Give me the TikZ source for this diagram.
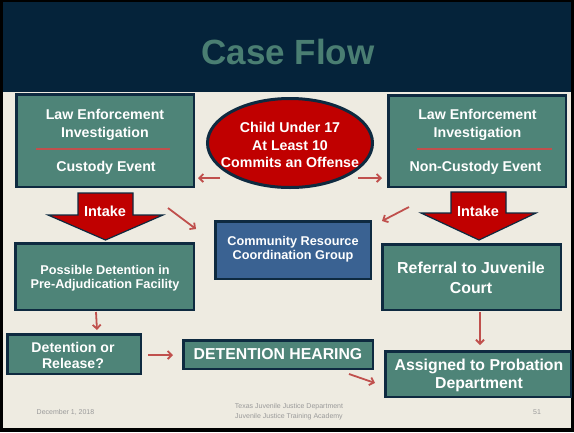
\documentclass[tikz,border=0pt]{standalone}
\usepackage{fontspec}
\setmainfont{Liberation Sans}
\usetikzlibrary{arrows.meta,shapes.geometric,shadows}
\definecolor{hdrnavy}{HTML}{05233A}
\definecolor{edgenavy}{HTML}{0E2A40}
\definecolor{boxteal}{HTML}{4E8478}
\definecolor{titleteal}{HTML}{4A7E72}
\definecolor{bgbeige}{HTML}{EEEBE1}
\definecolor{deepred}{HTML}{C00000}
\definecolor{arrred}{HTML}{C0504D}
\definecolor{crblue}{HTML}{3A6292}
\definecolor{footgray}{HTML}{9A9A9A}
\begin{document}
\begin{tikzpicture}[x=1pt,y=-1pt,
  box/.style={draw=edgenavy, line width=2.5pt, fill=boxteal, inner sep=0pt,
    drop shadow={opacity=0.25, shadow xshift=1.2pt, shadow yshift=-1.2pt}},
  wtxt/.style={text=white, align=center, inner sep=0pt, font=\bfseries},
  conn/.style={draw=arrred, line width=1.8pt, -{Straight Barb[length=4pt,width=8pt]}},
  sep/.style={draw=arrred, line width=1.8pt},
  intake/.style={fill=deepred, draw=edgenavy, line width=1.2pt},
  foot/.style={text=footgray, align=center, inner sep=0pt, font=\fontsize{7}{10}\selectfont}
]
\useasboundingbox (0,0) rectangle (574,432);
% frame and background
\fill[black] (0,0) rectangle (574,432);
\fill[bgbeige] (3,2) rectangle (571,428);
\fill[hdrnavy] (3,2) rectangle (571,92);
\node[text=titleteal, inner sep=0pt, font=\bfseries\fontsize{35}{40}\selectfont] (title) at (288,52) {Case Flow};

% top-left box
\node[box, minimum width=177.5pt, minimum height=92.5pt] (lbox) at (105,140.5) {};
\node[wtxt, font=\bfseries\fontsize{14.2}{18}\selectfont] (ltxt1) at (105,125) {Law Enforcement\\Investigation};
\draw[sep] (36,149) -- (170,149);
\node[wtxt, font=\bfseries\fontsize{14.2}{18}\selectfont] (ltxt2) at (106,167.5) {Custody Event};

% top-right box
\node[box, minimum width=177.5pt, minimum height=91.5pt] (rbox) at (477,141) {};
\node[wtxt, font=\bfseries\fontsize{14.2}{18}\selectfont] (rtxt1) at (477.5,125) {Law Enforcement\\Investigation};
\draw[sep] (417,149) -- (552,149);
\node[wtxt, font=\bfseries\fontsize{14.2}{18}\selectfont] (rtxt2) at (475.5,167.5) {Non-Custody Event};

% ellipse
\node[ellipse, draw=edgenavy, line width=3pt, fill=deepred, minimum width=165pt, minimum height=89pt, inner sep=0pt] (ell) at (290,143) {};
\node[wtxt, font=\bfseries\fontsize{14.2}{17.5}\selectfont] (elltxt) at (290,145) {Child Under 17\\At Least 10\\Commits an Offense};

% intake arrows
\draw[intake] (78,193) -- (133,193) -- (133,215) -- (163,215) -- (105.5,240) -- (48,215) -- (78,215) -- cycle;
\node[wtxt, font=\bfseries\fontsize{14.5}{17}\selectfont] (lintake) at (105,211.5) {Intake};
\draw[intake] (451,192) -- (506,192) -- (506,213) -- (536,213) -- (479,240) -- (421,213) -- (451,213) -- cycle;
\node[wtxt, font=\bfseries\fontsize{14.5}{17}\selectfont] (rintake) at (478,211.5) {Intake};

% community box
\node[box, fill=crblue, minimum width=155.5pt, minimum height=57.5pt] (crcg) at (293,250) {};
\node[wtxt, font=\bfseries\fontsize{12.7}{14}\selectfont] (crcgtxt) at (293,249) {Community Resource\\Coordination Group};

% possible detention
\node[box, minimum width=178.5pt, minimum height=66.5pt] (pdet) at (104.5,276.5) {};
\node[wtxt, font=\bfseries\fontsize{12.7}{14}\selectfont] (pdettxt) at (105,278) {Possible Detention in\\Pre-Adjudication Facility};

% referral
\node[box, minimum width=178.5pt, minimum height=65.5pt] (ref) at (471.5,277) {};
\node[wtxt, font=\bfseries\fontsize{15.9}{20}\selectfont] (reftxt) at (471,277.5) {Referral to Juvenile\\Court};

% detention or release
\node[box, minimum width=133.5pt, minimum height=39.5pt] (dor) at (74,354) {};
\node[wtxt, font=\bfseries\fontsize{14.1}{16}\selectfont] (dortxt) at (73,355.5) {Detention or\\Release?};

% detention hearing
\node[box, minimum width=189.5pt, minimum height=28.5pt] (dh) at (278,354.5) {};
\node[wtxt, font=\bfseries\fontsize{15.8}{18}\selectfont] (dhtxt) at (278,354) {DETENTION HEARING};

% assigned to probation
\node[box, minimum width=185.5pt, minimum height=45.5pt] (asg) at (478,374) {};
\node[wtxt, font=\bfseries\fontsize{15.8}{18}\selectfont] (asgtxt) at (479,375.5) {Assigned to Probation\\Department};

% connector end points
\coordinate (c1s) at (220,178); \coordinate (c1e) at (198,178);
\coordinate (c2s) at (358,178); \coordinate (c2e) at (382,178);
\coordinate (c3s) at (168,208); \coordinate (c3e) at (196,229);
\coordinate (c4s) at (409,207); \coordinate (c4e) at (382,221);
\coordinate (c5s) at (96,312);  \coordinate (c5e) at (97,330);
\coordinate (c6s) at (148,355); \coordinate (c6e) at (173,355);
\coordinate (c7s) at (349,374); \coordinate (c7e) at (375,383);
\coordinate (c8s) at (480,312); \coordinate (c8e) at (480,345);
\draw[conn] (c1s) -- (c1e);
\draw[conn] (c2s) -- (c2e);
\draw[conn] (c3s) -- (c3e);
\draw[conn] (c4s) -- (c4e);
\draw[conn] (c5s) -- (c5e);
\draw[conn] (c6s) -- (c6e);
\draw[conn] (c7s) -- (c7e);
\draw[conn] (c8s) -- (c8e);

% footer
\node[foot] (fdate) at (65.5,412) {December 1, 2018};
\node[foot] (forg) at (289,412) {Texas Juvenile Justice Department\\Juvenile Justice Training Academy};
\node[foot] (fnum) at (537,412) {51};
\end{tikzpicture}
\end{document}
